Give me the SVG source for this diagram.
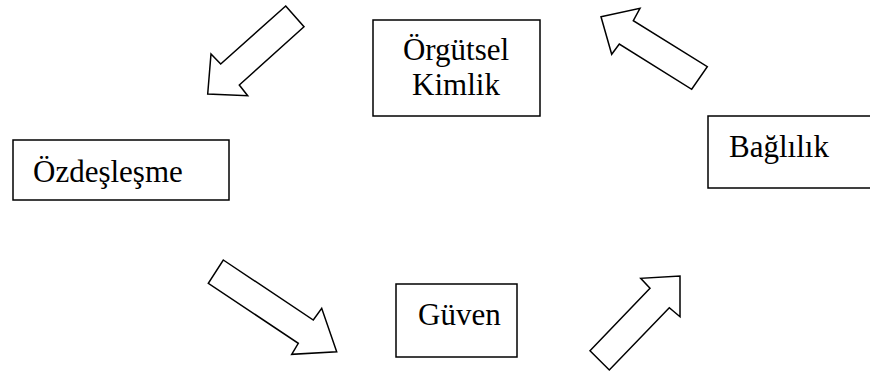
<svg xmlns="http://www.w3.org/2000/svg" width="870" height="374" viewBox="0 0 870 374">
  <style>
    .box { fill: #ffffff; stroke: #000000; stroke-width: 1.5; }
    .arrow { fill: #ffffff; stroke: #000000; stroke-width: 1.5; stroke-linejoin: miter; }
    .label { font-family: "Liberation Serif", "Times New Roman", serif; font-size: 31px; fill: #000000; }
  </style>
  <rect width="870" height="374" fill="#ffffff"/>

  <g id="orgutsel-kimlik">
    <rect class="box" x="373" y="20" width="167" height="96"/>
    <text class="label" x="456" y="60" text-anchor="middle">Örgütsel</text>
    <text class="label" x="456" y="95" text-anchor="middle">Kimlik</text>
  </g>

  <g id="baglilik">
    <rect class="box" x="708" y="116" width="166" height="72"/>
    <text class="label" x="729" y="157">Bağlılık</text>
  </g>

  <g id="ozdeslesme">
    <rect class="box" x="13" y="140" width="216" height="60"/>
    <text class="label" x="33" y="182">Özdeşleşme</text>
  </g>

  <g id="guven">
    <rect class="box" x="396" y="284" width="121" height="73"/>
    <text class="label" x="418" y="325">Güven</text>
  </g>

  <g id="connectors">
    <!-- Örgütsel Kimlik -> Özdeşleşme -->
    <polygon class="arrow" points="285.7,6 304,26.7 239.3,85 247.7,95.7 207.7,94 211,54 220.7,64"/>
    <!-- Özdeşleşme -> Güven -->
    <polygon class="arrow" points="223.3,260 313.3,320 321.7,308.3 336.7,351.7 291.7,354.3 298.3,343.3 208.3,283.3"/>
    <!-- Güven -> Bağlılık -->
    <polygon class="arrow" points="590,350.7 650,288.3 640.7,278.3 680,276 680,316.7 669.3,307.7 609.3,370"/>
    <!-- Bağlılık -> Örgütsel Kimlik -->
    <polygon class="arrow" points="601,16.7 640,8.3 633.3,20.7 707.3,66.7 691.7,89.3 619.3,44 611.7,54.3"/>
  </g>
</svg>
